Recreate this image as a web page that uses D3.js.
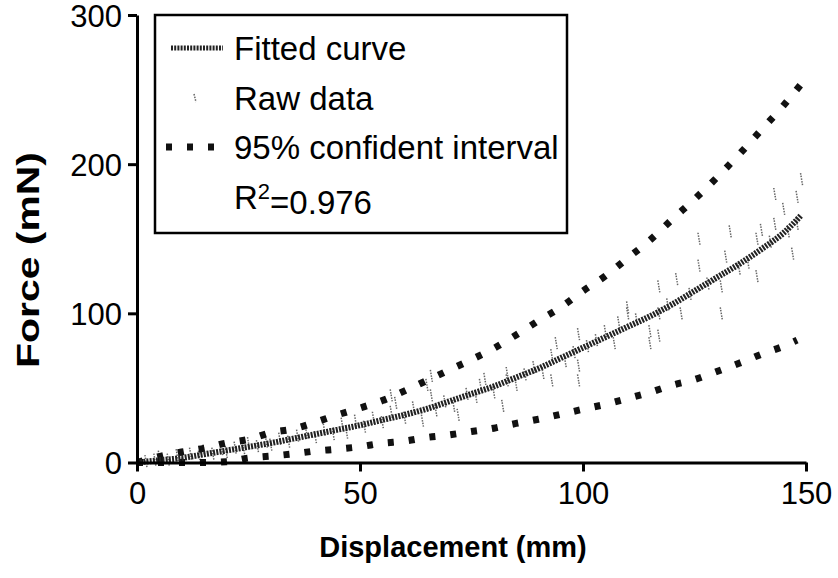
<!DOCTYPE html>
<html>
<head>
<meta charset="utf-8">
<script src="https://cdn.jsdelivr.net/npm/d3@7"></script>
<style>
  body { margin: 0; background: #fff; }
  svg { display: block; font-family: "Liberation Sans", Arial, sans-serif; }
</style>
</head>
<body>
<div id="chart"></div>
<script>
// Force vs displacement, fitted curve with 95% interval

const xTicks = [0, 50, 100, 150];
const yTicks = [0, 100, 200, 300];

// fitted curve
const fitX = [0, 5, 10, 15, 20, 25, 30, 35, 40, 45, 50, 55, 60, 65, 70, 75, 80, 85, 90, 95, 100, 105, 110, 115, 120, 125, 130, 135, 140, 145, 149];
const fitY = [0, 1.5, 3, 5.5, 8, 10.5, 13, 16, 19, 22, 25, 28.5, 32, 36, 41, 46, 51, 57, 63, 70, 77, 84, 91, 98, 106, 115, 124, 133, 143, 154, 166];

// 95% interval, upper and lower
const upX = [0, 5, 10, 15, 20, 25, 30, 35, 40, 45, 50, 55, 60, 65, 70, 75, 80, 85, 90, 95, 100, 105, 110, 115, 120, 125, 130, 135, 140, 145, 149];
const upY = [0, 4, 7, 9.5, 13, 15.5, 20, 22.5, 27, 32, 36.5, 41.5, 48, 55, 62, 69, 76.5, 85.5, 95, 104, 115, 125, 137, 149, 163, 176.5, 191, 206.5, 223, 239.5, 254];
const loX = [0, 5, 10, 15, 20, 25, 30, 35, 40, 45, 50, 55, 60, 65, 70, 75, 80, 85, 90, 95, 100, 105, 110, 115, 120, 125, 130, 135, 140, 145, 148];
const loY = [0, 0, 0, 0, 0.5, 3, 4.3, 5.8, 7.7, 9, 10.6, 12.9, 14.4, 16.8, 18.5, 20.8, 23, 26.2, 29, 32.3, 35.7, 39, 42.9, 47, 51.8, 55.6, 61, 66.5, 72.6, 78, 82];

// raw data points
const rawX = [2, 4, 5, 7, 9, 10, 12, 14, 15, 17, 19, 20, 22, 24, 25, 27, 29, 30, 32, 34, 36, 38, 40, 42, 44, 46, 47, 49, 51, 53, 55, 57, 57, 58, 60, 62, 64, 65, 66, 66, 67, 69, 71, 72, 74, 76, 77, 78, 80, 82, 83, 83, 85, 87, 89, 91, 93, 93, 94, 96, 98, 99, 99, 99, 101, 103, 105, 107, 108, 110, 110, 112, 115, 115, 117, 117, 117, 119, 121, 122, 124, 126, 126, 128, 131, 131, 132, 133, 135, 137, 139, 139, 140, 142, 143, 143, 145, 146, 147, 148, 148, 149];
const rawY = [1, 2, 4, 2, 5, 3, 6, 4, 8, 6, 9, 7, 10, 8, 13, 11, 14, 12, 16, 14, 18, 20, 17, 22, 19, 26, 20, 28, 24, 30, 27, 34, 45, 40, 30, 37, 28, 52, 45, 58, 35, 41, 38, 32, 46, 44, 52, 56, 47, 38, 55, 60, 52, 59, 64, 60, 55, 72, 80, 68, 74, 55, 65, 86, 78, 82, 88, 80, 94, 100, 104, 96, 80, 88, 85, 100, 118, 106, 123, 100, 113, 132, 150, 120, 100, 118, 138, 155, 130, 134, 125, 150, 156, 148, 160, 180, 170, 155, 140, 160, 178, 190];

const legendLabels = ['Fitted curve', 'Raw data', '95% confident interval'];
const rSquared = '0.976';

const W = 838, H = 578;

const svg = d3.select('#chart').append('svg')
    .attr('width', W)
    .attr('height', H);

const xScale = d3.scaleLinear().domain([0, 150]).range([137, 806]);
const yScale = d3.scaleLinear().domain([0, 300]).range([462.5, 15]);

// raw data
const raw = rawX.map((x, i) => ({ x: x, y: rawY[i] }));
svg.append('g')
    .selectAll('line')
    .data(raw)
    .enter().append('line')
    .attr('x1', d => xScale(d.x) - 1)
    .attr('x2', d => xScale(d.x) + 1)
    .attr('y1', d => yScale(d.y) - 6)
    .attr('y2', d => yScale(d.y) + 6)
    .attr('stroke', '#666')
    .attr('stroke-width', 1.5)
    .attr('stroke-dasharray', '1.5,1.2');

const line = d3.line()
    .x(d => xScale(d[0]))
    .y(d => yScale(d[1]))
    .curve(d3.curveMonotoneX);

// confidence band edges
[[upX, upY], [loX, loY]].forEach(([xs, ys]) => {
    svg.append('path')
        .datum(xs.map((x, i) => [x, ys[i]]))
        .attr('d', line)
        .attr('fill', 'none')
        .attr('stroke', '#111')
        .attr('stroke-width', 7)
        .attr('stroke-dasharray', '6,15');
});

// fitted curve
svg.append('path')
    .datum(fitX.map((x, i) => [x, fitY[i]]))
    .attr('d', line)
    .attr('fill', 'none')
    .attr('stroke', '#222')
    .attr('stroke-width', 6)
    .attr('stroke-dasharray', '2,1.2');

// axes
const xAxis = svg.append('g')
    .attr('transform', `translate(0,${yScale(0)})`)
    .call(d3.axisBottom(xScale).tickValues(xTicks).tickSize(9).tickPadding(10).tickSizeOuter(0));

const yAxis = svg.append('g')
    .attr('transform', `translate(${xScale(0)},0)`)
    .call(d3.axisLeft(yScale).tickValues(yTicks).tickSize(9).tickPadding(6).tickSizeOuter(0));

[xAxis, yAxis].forEach(ax => {
    ax.select('.domain').attr('stroke', '#000').attr('stroke-width', 3);
    ax.selectAll('.tick line').attr('stroke', '#000').attr('stroke-width', 3);
    ax.selectAll('.tick text')
        .attr('fill', '#000')
        .style('font-family', '"Liberation Sans", Arial, sans-serif')
        .style('font-size', '31px');
});
yAxis.selectAll('.tick text').attr('dy', '0.36em');

// axis titles
svg.append('text')
    .attr('x', 453)
    .attr('y', 557)
    .attr('text-anchor', 'middle')
    .style('font-size', '29px')
    .style('font-weight', 'bold')
    .text('Displacement (mm)');

svg.append('text')
    .attr('transform', 'rotate(-90)')
    .attr('x', -260)
    .attr('y', 39)
    .attr('text-anchor', 'middle')
    .attr('textLength', 216)
    .attr('lengthAdjust', 'spacingAndGlyphs')
    .style('font-size', '31px')
    .style('font-weight', 'bold')
    .text('Force (mN)');

// legend
const legend = svg.append('g');

legend.append('rect')
    .attr('x', 155)
    .attr('y', 15)
    .attr('width', 412)
    .attr('height', 218)
    .attr('fill', 'none')
    .attr('stroke', '#000')
    .attr('stroke-width', 2.5);

const rowY = [48, 98, 147, 197];

legend.append('line')
    .attr('x1', 171).attr('x2', 223)
    .attr('y1', rowY[0]).attr('y2', rowY[0])
    .attr('stroke', '#222')
    .attr('stroke-width', 5)
    .attr('stroke-dasharray', '2,1.2');

legend.append('line')
    .attr('x1', 194).attr('x2', 196)
    .attr('y1', rowY[1] - 4).attr('y2', rowY[1] + 4)
    .attr('stroke', '#666')
    .attr('stroke-width', 1.5)
    .attr('stroke-dasharray', '1.5,1.2');

legend.append('line')
    .attr('x1', 166).attr('x2', 224)
    .attr('y1', rowY[2]).attr('y2', rowY[2])
    .attr('stroke', '#111')
    .attr('stroke-width', 7)
    .attr('stroke-dasharray', '6,15');

legendLabels.forEach((label, i) => {
    legend.append('text')
        .attr('x', 234)
        .attr('y', rowY[i])
        .attr('dy', '0.35em')
        .style('font-size', '33px')
        .text(label);
});

const r2 = legend.append('text')
    .attr('x', 234)
    .attr('y', rowY[3])
    .attr('dy', '0.35em')
    .style('font-size', '33px');
r2.append('tspan').text('R');
r2.append('tspan').attr('dy', '-0.45em').style('font-size', '22px').text('2');
r2.append('tspan').attr('dy', '0.45em').text('=' + rSquared);
</script>
</body>
</html>
